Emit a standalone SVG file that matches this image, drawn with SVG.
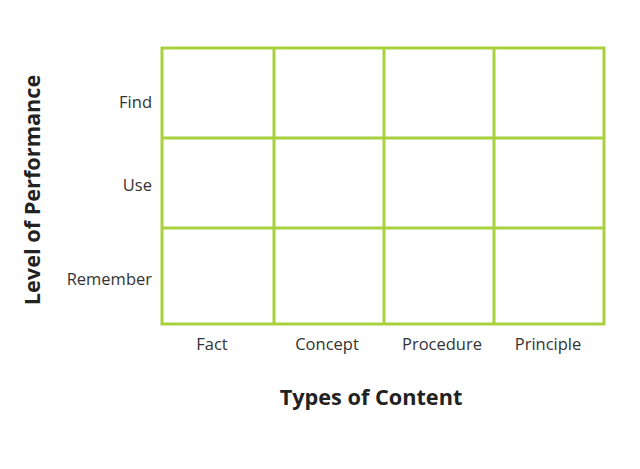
<svg xmlns="http://www.w3.org/2000/svg" width="640" height="469" viewBox="0 0 640 469">
<style>
.g{stroke:#a8d13e;stroke-width:3;fill:none}
.t{font-family:"Open Sans","Liberation Sans",sans-serif;font-size:16.5px;fill:#333}
.h{font-family:"Open Sans","Liberation Sans",sans-serif;font-size:21.7px;font-weight:bold;fill:#222}
</style>
<rect width="640" height="469" fill="#fff"/>
<g id="grid">
<rect class="g" x="162" y="48" width="442" height="276"/>
<path class="g" d="M274 48V324M384 48V324M494 48V324M162 138H604M162 228H604"/>
</g>
<g id="labels">
<text class="t" x="152" y="108" text-anchor="end">Find</text>
<text class="t" x="152" y="191" text-anchor="end">Use</text>
<text class="t" x="152" y="285" text-anchor="end">Remember</text>
<text class="t" x="212" y="350" text-anchor="middle">Fact</text>
<text class="t" x="327" y="350" text-anchor="middle">Concept</text>
<text class="t" x="442" y="350" text-anchor="middle">Procedure</text>
<text class="t" x="548" y="350" text-anchor="middle">Principle</text>
<text class="h" x="371" y="405" text-anchor="middle">Types of Content</text>
<text class="h" transform="translate(40,190) rotate(-90)" text-anchor="middle">Level of Performance</text>
</g>
</svg>
